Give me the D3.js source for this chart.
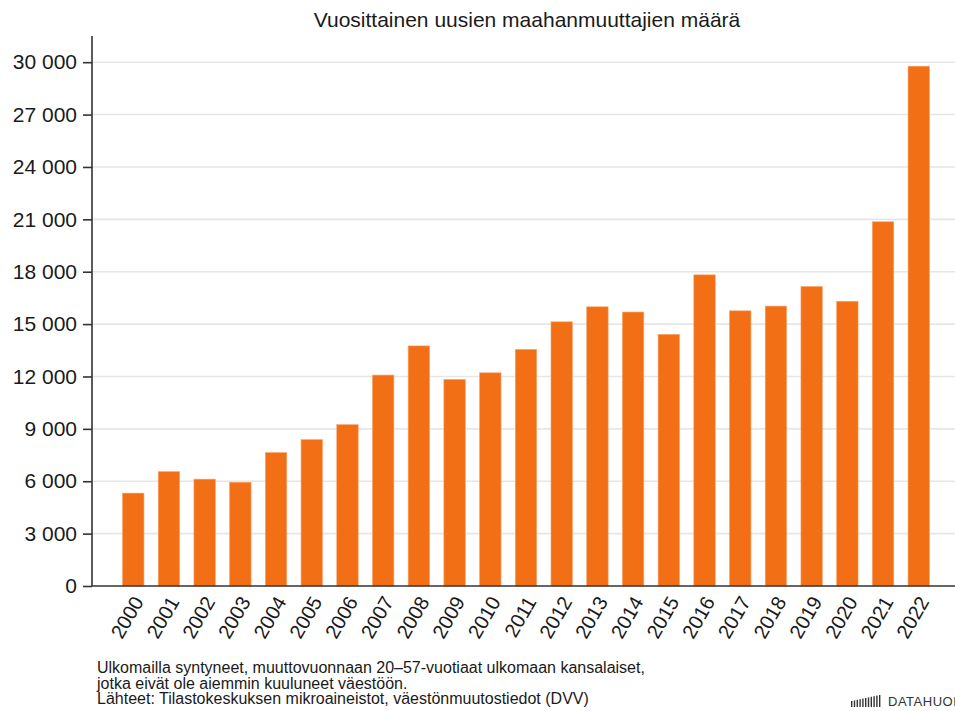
<!DOCTYPE html>
<html>
<head>
<meta charset="utf-8">
<script src="https://cdn.jsdelivr.net/npm/d3@7"></script>
<style>
    body { margin: 0; background: #fff; }
    svg { display: block; font-family: "Liberation Sans", Arial, sans-serif; }
</style>
</head>
<body>
<div id="chart"></div>
<script>
// vuodet ja uusien maahanmuuttajien määrä (luettu kuvasta)
var years = ['2000', '2001', '2002', '2003', '2004', '2005', '2006', '2007', '2008', '2009', '2010', '2011',
    '2012', '2013', '2014', '2015', '2016', '2017', '2018', '2019', '2020', '2021', '2022'];
var arrivals = [5320, 6550, 6120, 5940, 7640, 8380, 9240, 12080, 13750, 11830, 12210, 13550,
    15130, 15990, 15690, 14410, 17820, 15760, 16030, 17150, 16310, 20860, 29770];
var yTicks = [0, 3000, 6000, 9000, 12000, 15000, 18000, 21000, 24000, 27000, 30000];
var titleText = 'Vuosittainen uusien maahanmuuttajien määrä';
var footerLines = [
    'Ulkomailla syntyneet, muuttovuonnaan 20–57-vuotiaat ulkomaan kansalaiset,',
    'jotka eivät ole aiemmin kuuluneet väestöön.',
    'Lähteet: Tilastokeskuksen mikroaineistot, väestönmuutostiedot (DVV)'
];

var width = 955, height = 711;
var plotLeft = 92, plotRight = 960, plotTop = 36, plotBottom = 586;
var barColor = '#f26f16';
var textColor = '#1a1a1a';

var svg = d3.select('#chart').append('svg')
    .attr('width', width)
    .attr('height', height);

var x = d3.scaleBand()
    .domain(years)
    .range([plotLeft, plotRight])
    .paddingInner(0.4)
    .paddingOuter(0.855);

var y = d3.scaleLinear()
    .domain([0, 31500])
    .range([plotBottom, plotTop]);

// vaakasuorat apuviivat
svg.append('g')
    .selectAll('line')
    .data(yTicks.filter(function(d) { return d > 0; }))
    .enter()
    .append('line')
    .attr('x1', plotLeft)
    .attr('x2', width)
    .attr('y1', function(d) { return y(d); })
    .attr('y2', function(d) { return y(d); })
    .attr('stroke', '#e6e6e6')
    .attr('stroke-width', 1.6);

svg.append('g')
    .selectAll('rect')
    .data(arrivals)
    .enter()
    .append('rect')
    .attr('x', function(d, i) { return x(years[i]); })
    .attr('width', x.bandwidth())
    .attr('y', function(d) { return y(d); })
    .attr('height', function(d) { return y(0) - y(d); })
    .attr('fill', barColor)
    .attr('stroke', '#f7a36b')
    .attr('stroke-width', 0.6);

var fmt = function(d) { return d3.format(',')(d).replace(/,/g, ' '); };

var yAxis = svg.append('g')
    .attr('transform', 'translate(' + plotLeft + ',0)')
    .call(d3.axisLeft(y).tickValues(yTicks).tickFormat(fmt).tickSize(9).tickPadding(6));
yAxis.select('.domain').remove();
yAxis.selectAll('.tick line').attr('stroke', '#333').attr('stroke-width', 1.6);
yAxis.selectAll('.tick text')
    .attr('fill', textColor)
    .style('font-size', '21px')
    .style('font-family', '"Liberation Sans", Arial, sans-serif');

svg.append('line')
    .attr('x1', plotLeft).attr('x2', plotLeft)
    .attr('y1', plotTop).attr('y2', plotBottom)
    .attr('stroke', '#333')
    .attr('stroke-width', 1.6);

svg.append('line')
    .attr('x1', plotLeft).attr('x2', width)
    .attr('y1', plotBottom).attr('y2', plotBottom)
    .attr('stroke', '#333')
    .attr('stroke-width', 1.6);

// vuosien nimiöt vinossa
svg.append('g')
    .selectAll('text')
    .data(years)
    .enter()
    .append('text')
    .attr('transform', function(d) {
        return 'translate(' + (x(d) + x.bandwidth() / 2 + 5) + ',' + (plotBottom + 12) + ') rotate(-60)';
    })
    .attr('text-anchor', 'end')
    .attr('dy', '0.35em')
    .attr('fill', textColor)
    .style('font-size', '20px')
    .text(function(d) { return d; });

svg.append('text')
    .attr('x', 527)
    .attr('y', 27)
    .attr('text-anchor', 'middle')
    .attr('fill', textColor)
    .style('font-size', '21px')
    .text(titleText);

svg.append('g')
    .selectAll('text')
    .data(footerLines)
    .enter()
    .append('text')
    .attr('x', 97)
    .attr('y', function(d, i) { return 673 + i * 15.5; })
    .attr('fill', textColor)
    .style('font-size', '16px')
    .text(function(d) { return d; });

// logo oikeassa alakulmassa
var logo = svg.append('g').attr('transform', 'translate(851,706)');
d3.range(11).forEach(function(i) {
    logo.append('rect')
        .attr('x', i * 2.8)
        .attr('y', -5 - i * 0.6)
        .attr('width', 1.4)
        .attr('height', 6 + i * 0.6)
        .attr('fill', '#333');
});
logo.append('text')
    .attr('x', 37)
    .attr('y', 0)
    .attr('fill', '#333')
    .style('font-size', '13px')
    .style('letter-spacing', '0.5px')
    .text('DATAHUONE');
</script>
</body>
</html>
